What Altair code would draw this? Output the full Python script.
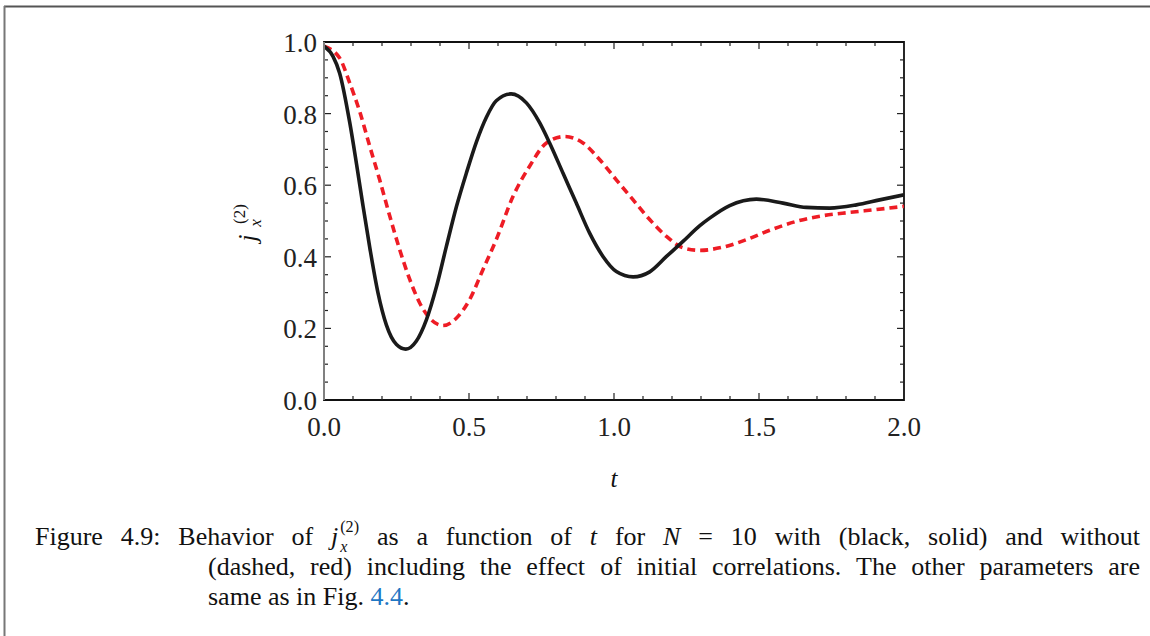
import altair as alt
import pandas as pd

# ---------------- data ----------------
t_solid = [0.0, 0.031, 0.054, 0.089, 0.112, 0.134, 0.158, 0.186, 0.215, 0.25, 0.282,
           0.318, 0.353, 0.388, 0.422, 0.457, 0.491, 0.526, 0.56, 0.594, 0.645, 0.698,
           0.744, 0.778, 0.824, 0.87, 0.916, 0.962, 1.008, 1.066, 1.123, 1.181, 1.238,
           1.296, 1.33, 1.399, 1.491, 1.583, 1.663, 1.744, 1.836, 1.916, 2.0]
v_solid = [0.988, 0.96, 0.913, 0.774, 0.66, 0.545, 0.425, 0.3, 0.21, 0.155, 0.142,
           0.164, 0.224, 0.317, 0.429, 0.541, 0.634, 0.722, 0.79, 0.836, 0.855, 0.83,
           0.774, 0.718, 0.634, 0.55, 0.466, 0.401, 0.359, 0.344, 0.358, 0.401, 0.443,
           0.487, 0.508, 0.543, 0.561, 0.55, 0.538, 0.536, 0.545, 0.559, 0.573]

t_dashed = [0.0, 0.054, 0.089, 0.123, 0.158, 0.192, 0.227, 0.261, 0.296, 0.33, 0.364,
            0.41, 0.457, 0.502, 0.548, 0.594, 0.652, 0.709, 0.767, 0.83, 0.893, 0.951,
            1.008, 1.066, 1.123, 1.181, 1.238, 1.296, 1.376, 1.457, 1.537, 1.629, 1.721,
            1.813, 1.905, 2.0]
v_dashed = [0.988, 0.955, 0.885, 0.806, 0.708, 0.615, 0.513, 0.42, 0.336, 0.271, 0.229,
            0.208, 0.229, 0.28, 0.364, 0.448, 0.569, 0.653, 0.718, 0.736, 0.718, 0.671,
            0.615, 0.559, 0.504, 0.457, 0.425, 0.418, 0.427, 0.448, 0.474, 0.499, 0.515,
            0.524, 0.532, 0.541]

x_labels = [0.0, 0.5, 1.0, 1.5, 2.0]
y_labels = [0.0, 0.2, 0.4, 0.6, 0.8, 1.0]
x_major = [0.5, 1.0, 1.5]
x_minor = [0.1, 0.2, 0.3, 0.4, 0.6, 0.7, 0.8, 0.9, 1.1, 1.2, 1.3, 1.4, 1.6, 1.7, 1.8, 1.9]
y_major = [0.2, 0.4, 0.6, 0.8]
y_minor = [0.05, 0.1, 0.15, 0.25, 0.3, 0.35, 0.45, 0.5, 0.55, 0.65, 0.7, 0.75,
           0.85, 0.9, 0.95]

caption_line1 = ["Figure", "4.9:", "Behavior", "of", "$j", "as", "a", "function", "of",
                 "%t", "for", "%N", "=", "10", "with", "(black,", "solid)", "and", "without"]
caption_line2 = ["(dashed,", "red)", "including", "the", "effect", "of", "initial",
                 "correlations.", "The", "other", "parameters", "are"]
caption_line3 = ["same as in Fig. ", "4.4", "."]

# ---------------- layout ----------------
W, H = 580, 358
OX, OY = 324, 42
SERIF = "Liberation Serif"
CAP = 26

xs = alt.Scale(domain=[0, 2], nice=False, zero=False)
ys = alt.Scale(domain=[0, 1], nice=False, zero=False)

# Times / Liberation Serif advance widths (1/1000 em)
TW = {' ': 250, '(': 333, ')': 333, ',': 250, '.': 250, ':': 278, '=': 564,
      'F': 556, 'B': 667, 'N': 722, 'T': 611,
      'a': 444, 'b': 500, 'c': 444, 'd': 500, 'e': 444, 'f': 333, 'g': 500, 'h': 500,
      'i': 278, 'j': 278, 'k': 500, 'l': 278, 'm': 778, 'n': 500, 'o': 500, 'p': 500,
      'q': 500, 'r': 333, 's': 389, 't': 278, 'u': 500, 'v': 500, 'w': 722, 'x': 500,
      'y': 500, 'z': 444}
TWI = {'j': 278, 't': 278, 'N': 667, 'x': 444}


def tw(s, size, italic=False):
    tot = 0
    for c in s:
        if italic and c in TWI:
            tot += TWI[c]
        else:
            tot += TW.get(c, 500)
    return tot / 1000 * size


def tok_width(tok, size):
    if tok.startswith("$"):
        return tw("j", size, True) + 0.62 * tw("(2)", size) + 2
    if tok.startswith("%"):
        return tw(tok[1:], size, True)
    return tw(tok, size)


ONE = pd.DataFrame({"k": [0]})


def text_layer(txt, x, y, size=CAP, italic=False, color="#111", angle=0, align="left"):
    kw = dict(font=SERIF, fontSize=size, align=align, baseline="alphabetic", color=color)
    if italic:
        kw["fontStyle"] = "italic"
    if angle:
        kw["angle"] = angle
    return alt.Chart(ONE).mark_text(**kw).encode(
        x=alt.value(x - OX), y=alt.value(y - OY), text=alt.value(txt))


def render_tokens(tokens, x0, x1, y, size):
    widths = [tok_width(t, size) for t in tokens]
    gap = (x1 - x0 - sum(widths)) / (len(tokens) - 1)
    layers = []
    x = x0
    for tok, w in zip(tokens, widths):
        if tok.startswith("$"):
            layers.append(text_layer("j", x, y, size, italic=True))
            xx = x + tw("j", size, True) + 2
            layers.append(text_layer("(2)", xx, y - 0.5 * size, 0.62 * size))
            layers.append(text_layer("x", xx, y + 0.28 * size, 0.62 * size, italic=True))
        elif tok.startswith("%"):
            layers.append(text_layer(tok[1:], x, y, size, italic=True))
        else:
            layers.append(text_layer(tok, x, y, size))
        x += w + gap
    return layers


layers = []

# page frame
layers.append(alt.Chart(ONE).mark_rule(color="#555", strokeWidth=2).encode(
    x=alt.value(4 - OX), x2=alt.value(1150 - OX), y=alt.value(6.5 - OY)))
layers.append(alt.Chart(ONE).mark_rule(color="#777", strokeWidth=2).encode(
    x=alt.value(4.5 - OX), y=alt.value(6 - OY), y2=alt.value(636 - OY)))

# curves
dashed = alt.Chart(pd.DataFrame({"t": t_dashed, "v": v_dashed})).mark_line(
    color="#ee1c25", strokeWidth=3.6, strokeDash=[8, 5], strokeCap="butt",
    interpolate="monotone", clip=True).encode(
    x=alt.X("t:Q", scale=xs, axis=None), y=alt.Y("v:Q", scale=ys, axis=None))
solid = alt.Chart(pd.DataFrame({"t": t_solid, "v": v_solid})).mark_line(
    color="#1a1a1a", strokeWidth=3.6, interpolate="monotone", clip=True).encode(
    x=alt.X("t:Q", scale=xs, axis=None), y=alt.Y("v:Q", scale=ys, axis=None))
layers += [dashed, solid]


# inward frame ticks
def ticks(vals, length, side):
    base = alt.Chart(pd.DataFrame({"p": vals})).mark_rule(color="#222", strokeWidth=1.2)
    if side == "bottom":
        return base.encode(x=alt.X("p:Q", scale=xs, axis=None), y=alt.value(H), y2=alt.value(H - length))
    if side == "top":
        return base.encode(x=alt.X("p:Q", scale=xs, axis=None), y=alt.value(0), y2=alt.value(length))
    if side == "left":
        return base.encode(y=alt.Y("p:Q", scale=ys, axis=None), x=alt.value(0), x2=alt.value(length))
    return base.encode(y=alt.Y("p:Q", scale=ys, axis=None), x=alt.value(W), x2=alt.value(W - length))


for side in ["bottom", "top"]:
    layers.append(ticks(x_minor, 4, side))
    layers.append(ticks(x_major, 7, side))
for side in ["left", "right"]:
    layers.append(ticks(y_minor, 4, side))
    layers.append(ticks(y_major, 7, side))

# left frame edge in grey
layers.append(alt.Chart(ONE).mark_rule(color="#808080", strokeWidth=2).encode(
    x=alt.value(0), y=alt.value(0), y2=alt.value(H)))

# tick labels
layers.append(alt.Chart(pd.DataFrame({"p": x_labels})).mark_text(
    font=SERIF, fontSize=27, color="#222", align="center", baseline="alphabetic").encode(
    x=alt.X("p:Q", scale=xs, axis=None), y=alt.value(H + 36),
    text=alt.Text("p:Q", format=".1f")))
layers.append(alt.Chart(pd.DataFrame({"p": y_labels})).mark_text(
    font=SERIF, fontSize=27, color="#222", align="right", baseline="alphabetic", dy=10).encode(
    y=alt.Y("p:Q", scale=ys, axis=None), x=alt.value(-7),
    text=alt.Text("p:Q", format=".1f")))

# axis titles
layers.append(text_layer("t", 614, 487, 25, italic=True, align="center"))
layers.append(text_layer("j", 256, 238, 25, italic=True, angle=270, align="center"))
layers.append(text_layer("(2)", 245, 214, 17, angle=270, align="center"))
layers.append(text_layer("x", 261, 223, 17, italic=True, angle=270, align="center"))

# caption
layers += render_tokens(caption_line1, 35, 1140, 545, CAP)
layers += render_tokens(caption_line2, 208, 1140, 575, CAP)
x3 = 208
layers.append(text_layer(caption_line3[0], x3, 605, CAP))
x3 += tw(caption_line3[0], CAP)
layers.append(text_layer(caption_line3[1], x3, 605, CAP, color="#1f77c4"))
x3 += tw(caption_line3[1], CAP)
layers.append(text_layer(caption_line3[2], x3, 605, CAP))

chart = alt.layer(*layers).properties(
    width=W, height=H,
    padding={"left": OX, "top": OY, "right": 1150 - OX - W, "bottom": 636 - OY - H},
    autosize=alt.AutoSizeParams(type="none"),
    background="white",
).configure_view(stroke="#111", strokeWidth=1.8)

chart.save("out.html", embed_options={"renderer": "svg", "actions": False})
